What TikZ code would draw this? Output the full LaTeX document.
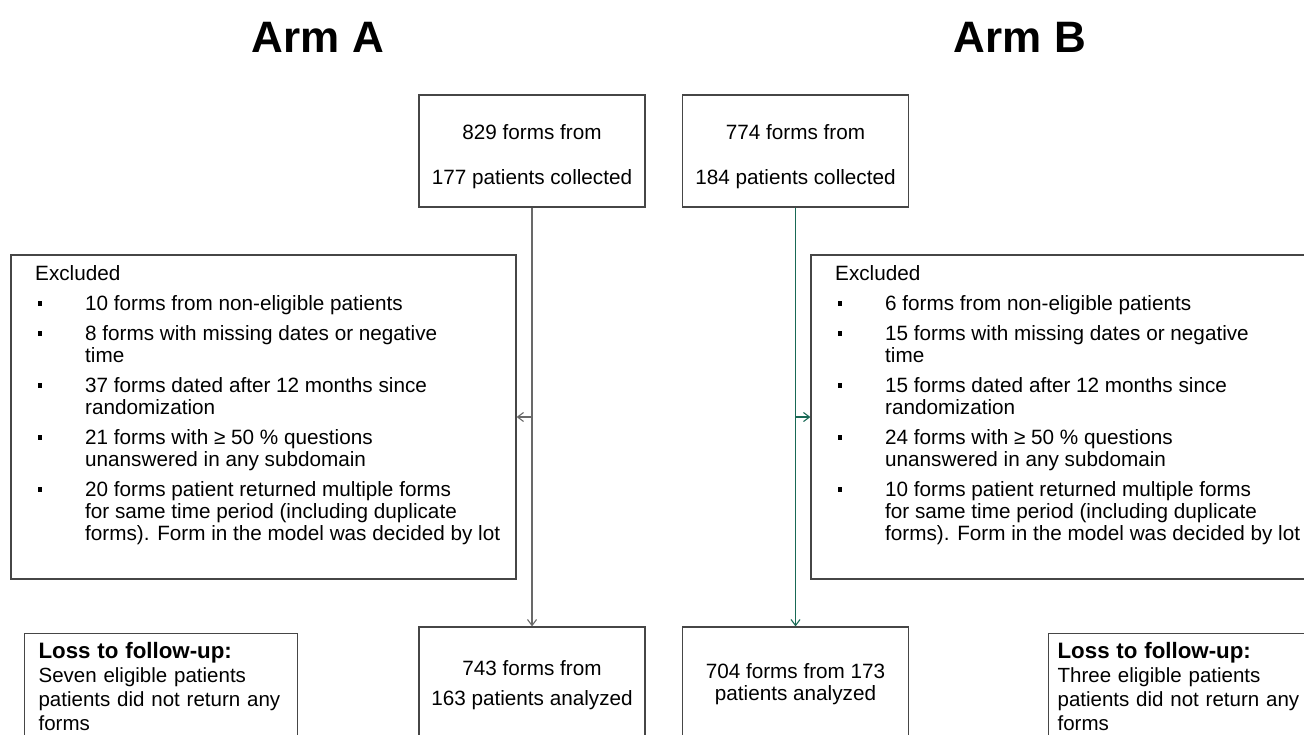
\documentclass[tikz,border=0pt]{standalone}
\usepackage{fontspec}
\setmainfont{Liberation Sans}
\usetikzlibrary{arrows.meta, positioning, calc}
\definecolor{boxline}{RGB}{70,70,70}
\definecolor{linkA}{RGB}{105,105,105}
\definecolor{linkB}{RGB}{25,105,85}
\newcommand{\sqbul}{\makebox[50pt][l]{\hspace*{3pt}\rule[4.5pt]{4pt}{5pt}}}
\newcommand{\indnt}{\hspace*{50pt}}
\newcommand{\losshead}{{\fontsize{22.3}{24}\selectfont\bfseries Loss to follow-up:}}

\tikzset{
  flowbox/.style={draw=boxline, line width=1.2pt, minimum width=226pt, minimum height=112pt,
    align=center, inner sep=0pt, font=\fontsize{20.7}{22}\selectfont},
  exbox/.style={draw=boxline, line width=1.2pt, minimum width=505pt, minimum height=324pt, inner sep=0pt},
  listtxt/.style={anchor=north west, align=left, inner sep=0pt, font=\fontsize{20.7}{22}\selectfont},
  lossbox/.style={draw=boxline, line width=1.2pt, anchor=north west, align=left, text width=245pt,
    inner xsep=14pt, inner ysep=9pt, font=\fontsize{20.5}{24}\selectfont},
  armtitle/.style={font=\fontsize{44}{48}\selectfont\bfseries},
  link/.style={line width=1.1pt, -{Straight Barb[length=6pt,width=9pt]}},
}

\begin{document}
\begin{tikzpicture}[x=1pt, y=-1pt]
  \useasboundingbox (0,0) rectangle (1304,734);
  % titles
  \node[armtitle] (titleA) at (318,37) {Arm A};
  \node[armtitle] (titleB) at (1020,37) {Arm B};
  % collected
  \node[flowbox] (topA) at (532,151) {\rule{0pt}{27pt}829 forms from\\[23pt]177 patients collected};
  \node[flowbox] (topB) at (795.5,151) {\rule{0pt}{27pt}774 forms from\\[23pt]184 patients collected};
  % analyzed
  \node[flowbox] (botA) at (532,683) {\rule{0pt}{19pt}743 forms from\\[8pt]163 patients analyzed};
  \node[flowbox] (botB) at (795.5,683) {\rule{0pt}{17pt}704 forms from 173\\patients analyzed};
  % exclusions
  \node[exbox] (exA) at (263.5,417) {};
  \node[exbox] (exB) at (1063.5,417) {};
  \node[listtxt] (exAtxt) at (35,265) {Excluded\\[8pt]
    \sqbul 10 forms from non-eligible patients\\[8pt]
    \sqbul 8 forms with missing dates or negative\\
    \indnt time\\[8pt]
    \sqbul 37 forms dated after 12 months since\\
    \indnt randomization\\[8pt]
    \sqbul 21 forms with ≥ 50 \% questions\\
    \indnt unanswered in any subdomain\\[8pt]
    \sqbul 20 forms patient returned multiple forms\\
    \indnt for same time period (including duplicate\\
    \indnt forms). Form in the model was decided by lot};
  \node[listtxt] (exBtxt) at (835,265) {Excluded\\[8pt]
    \sqbul 6 forms from non-eligible patients\\[8pt]
    \sqbul 15 forms with missing dates or negative\\
    \indnt time\\[8pt]
    \sqbul 15 forms dated after 12 months since\\
    \indnt randomization\\[8pt]
    \sqbul 24 forms with ≥ 50 \% questions\\
    \indnt unanswered in any subdomain\\[8pt]
    \sqbul 10 forms patient returned multiple forms\\
    \indnt for same time period (including duplicate\\
    \indnt forms). Form in the model was decided by lot};
  % loss to follow-up
  \node[lossbox] (lossA) at (24,633) {\losshead\\Seven eligible patients\\patients did not return any\\forms};
  \node[lossbox, text width=262pt, inner xsep=9pt] (lossB) at (1048,633) {\losshead\\Three eligible patients\\patients did not return any\\forms};
  % connectors
  \coordinate (jA) at (topA.south |- exA.east);
  \coordinate (jB) at (topB.south |- exB.west);
  \draw[link, draw=linkA] (topA.south) -- (botA.north);
  \draw[link, draw=linkA] (jA) -- (exA.east);
  \draw[link, draw=linkB] (topB.south) -- (botB.north);
  \draw[link, draw=linkB] (jB) -- (exB.west);
\end{tikzpicture}
\end{document}
